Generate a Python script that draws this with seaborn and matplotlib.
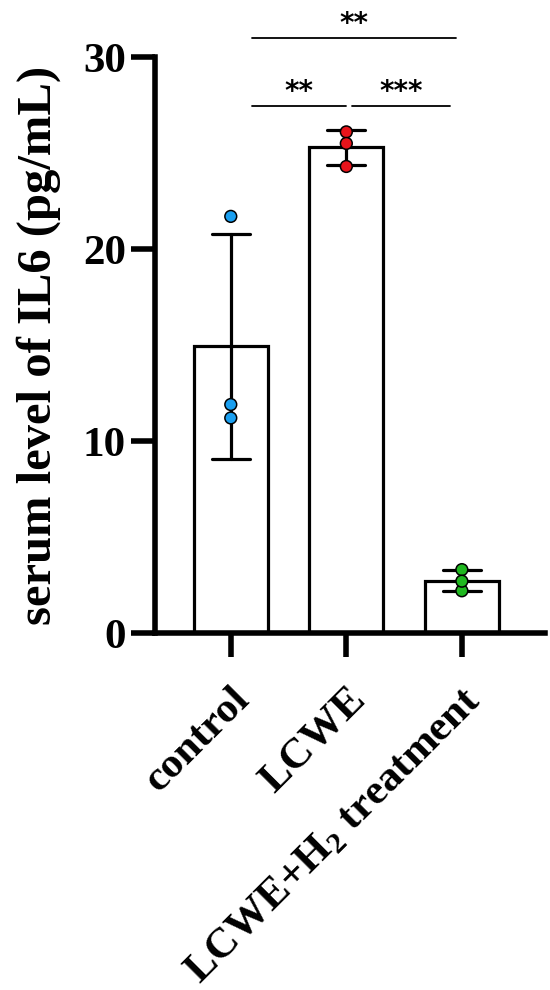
import pandas as pd
import matplotlib
matplotlib.use("Agg")
import matplotlib.pyplot as plt
import seaborn as sns

# values (pg/mL), three animals per group
groups = ["control", "LCWE", "LCWE+H$_2$ treatment"]
control = [21.7, 11.9, 11.2]
lcwe = [26.1, 25.5, 24.3]
h2 = [3.3, 2.2, 2.7]
dot_colors = ["#1a9ff0", "#e8141b", "#1fb81f"]

# significance brackets: (from group, to group, label)
brackets = [(0, 1, "**"), (1, 2, "***"), (0, 2, "**")]

data = pd.DataFrame({
    "group": [groups[0]] * len(control) + [groups[1]] * len(lcwe) + [groups[2]] * len(h2),
    "value": control + lcwe + h2,
})

sns.set_style("ticks")
plt.rcParams["font.family"] = ["Liberation Serif", "DejaVu Serif"]
plt.rcParams["font.weight"] = "bold"
plt.rcParams["mathtext.fontset"] = "custom"
plt.rcParams["mathtext.rm"] = "Liberation Serif"
for k in ["text.color", "axes.labelcolor", "xtick.color", "ytick.color", "axes.edgecolor"]:
    plt.rcParams[k] = "black"

fig = plt.figure(figsize=(5.5, 9.9), dpi=100)
ax = fig.add_axes([0.282, 0.3606, 0.709, 0.5818])

sns.barplot(data=data, x="group", y="value", order=groups, errorbar="sd",
            width=0.64, color="white", edgecolor="black", linewidth=2.3,
            capsize=0.33, err_kws={"color": "black", "linewidth": 2.3}, ax=ax)
sns.stripplot(data=data, x="group", y="value", order=groups, hue="group",
              palette=dot_colors, jitter=False, size=8.5, edgecolor="black",
              linewidth=1.1, legend=False, zorder=4, ax=ax)

ax.set_ylim(0, 30)
ax.set_xlim(-0.655, 2.72)
ax.set_yticks([0, 10, 20, 30])
ax.set_xlabel("")
ax.set_ylabel("serum level of IL6 (pg/mL)", fontsize=35, fontweight="bold", labelpad=16)
ax.tick_params(axis="both", width=4, length=17, labelsize=31, pad=4)
ax.tick_params(axis="x", pad=17)
ax.set_xticks(range(len(groups)))
ax.set_xticklabels(groups, rotation=45, ha="right", rotation_mode="anchor", fontsize=31)
for lab in ax.get_yticklabels() + ax.get_xticklabels():
    lab.set_fontweight("bold")
for s in ["top", "right"]:
    ax.spines[s].set_visible(False)
for s in ["left", "bottom"]:
    ax.spines[s].set_linewidth(4)

# brackets
for i, j, label in brackets:
    if j - i == 1:
        y = 27.45
        x0, x1 = i + 0.18 if i == 0 else i + 0.05, j - 0.1 if j == 2 else j
    else:
        y = 31.0
        x0, x1 = i + 0.18, j - 0.05
    ax.plot([x0, x1], [y, y], color="black", lw=1.3, clip_on=False)
    ax.text((x0 + x1) / 2, y, label, ha="center", va="bottom",
            fontsize=20, family="DejaVu Sans", fontweight="bold")

fig.savefig("out.png", dpi=100)
